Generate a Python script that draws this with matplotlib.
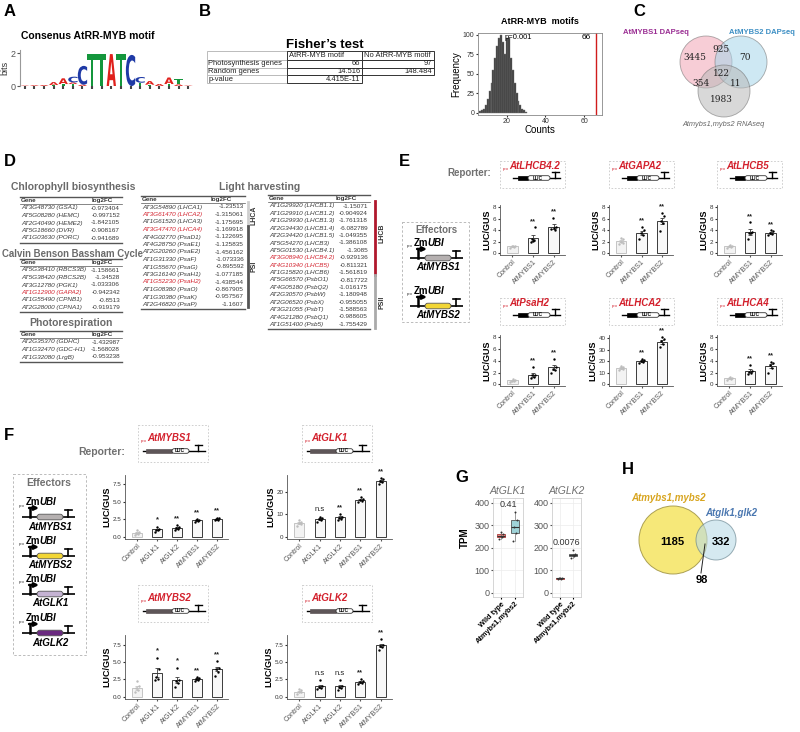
import numpy as np
import matplotlib
matplotlib.use('Agg')
import matplotlib.pyplot as plt
from matplotlib.patches import Circle, Rectangle, FancyBboxPatch, PathPatch
from matplotlib.textpath import TextPath
from matplotlib.font_manager import FontProperties
from matplotlib.transforms import Affine2D

plt.rcParams['font.family'] = ['Liberation Sans', 'DejaVu Sans']

# ---------------- data ----------------
# A: sequence logo, stacked (letter, bits) per position, bottom to top
logo_stacks = [
    [('A', 0.03)], [('A', 0.05)], [('A', 0.06)], [('T', 0.06), ('A', 0.18)],
    [('T', 0.12), ('A', 0.35)], [('T', 0.12), ('A', 0.1), ('C', 0.35)],
    [('A', 0.08), ('C', 1.15)], [('T', 1.95)], [('T', 1.95)], [('A', 1.95)],
    [('T', 1.95)], [('C', 1.9)], [('T', 0.2), ('C', 0.35)], [('T', 0.08), ('A', 0.22)],
    [('A', 0.12)], [('T', 0.12), ('A', 0.4)], [('A', 0.1), ('T', 0.3)], [('A', 0.03)],
]
logo_colors = {'A': '#e0201b', 'C': '#1f3aa6', 'G': '#f5a300', 'T': '#14963c'}

# B: Fisher's test table and permutation histogram
fisher_cols = ['AtRR-MYB motif', 'No AtRR-MYB motif']
fisher_rows = ['Photosynthesis genes', 'Random genes', 'p-value']
fisher_vals = [['66', '97'], ['14.516', '148.484'], ['4.415E-11', '']]
perm_counts = list(range(6, 31))
perm_freq = [2, 3, 5, 10, 17, 28, 38, 55, 70, 85, 95, 100, 90, 75, 95, 95,
             70, 55, 38, 25, 15, 10, 5, 3, 1]
observed_count = 66
perm_p = 'p=0.001'

# C: three-set Venn
venn3_names = ['AtMYBS1 DAPseq', 'AtMYBS2 DAPseq', 'Atmybs1,mybs2 RNAseq']
venn3_counts = {'100': 3445, '110': 925, '010': 70, '111': 122,
                '101': 354, '011': 11, '001': 1983}

# D: gene tables
chl_genes = ['AT3G48730 (GSA1)', 'AT5G08280 (HEMC)', 'AT2G40490 (HEME2)',
             'AT5G18660 (DVR)', 'AT1G03630 (PORC)']
chl_fc = [-0.973404, -0.997152, -1.842105, -0.908167, -0.941689]
cbb_genes = ['AT5G38410 (RBCS3B)', 'AT5G38420 (RBCS2B)', 'AT3G12780 (PGK1)',
             'AT1G12900 (GAPA2)', 'AT1G55490 (CPNB1)', 'AT2G28000 (CPNA1)']
cbb_fc = [-1.158661, -1.34528, -1.033306, -0.942342, -0.8513, -0.919179]
pr_genes = ['AT2G35370 (GDHC)', 'AT1G32470 (GDC-H1)', 'AT1G32080 (LrgB)']
pr_fc = [-1.432987, -1.568028, -0.953238]
psi_genes = ['AT3G54890 (LHCA1)', 'AT3G61470 (LHCA2)', 'AT1G61520 (LHCA3)',
             'AT3G47470 (LHCA4)', 'AT4G02770 (PsaD1)', 'AT4G28750 (PsaE1)',
             'AT2G20260 (PsaE2)', 'AT1G31330 (PsaF)', 'AT1G55670 (PsaG)',
             'AT3G16140 (PsaH1)', 'AT1G52230 (PsaH2)', 'AT1G08380 (PsaO)',
             'AT1G30380 (PsaK)', 'AT2G46820 (PsaP)']
psi_fc = [-1.23513, -1.315061, -1.175695, -1.169918, -1.122695, -1.125835,
          -1.456162, -1.073336, -0.895592, -1.077185, -1.438544, -0.867905,
          -0.957567, -1.1607]
psii_genes = ['AT1G29920 (LHCB1.1)', 'AT1G29910 (LHCB1.2)', 'AT1G29930 (LHCB1.3)',
              'AT2G34430 (LHCB1.4)', 'AT2G34420 (LHCB1.5)', 'AT5G54270 (LHCB3)',
              'AT5G01530 (LHCB4.1)', 'AT3G08940 (LHCB4.2)', 'AT4G10340 (LHCB5)',
              'AT1G15820 (LHCB6)', 'AT5G66570 (PsbO1)', 'AT4G05180 (PsbQ2)',
              'AT2G30570 (PsbW)', 'AT2G06520 (PsbX)', 'AT3G21055 (PsbT)',
              'AT4G21280 (PsbQ1)', 'AT1G51400 (Psb5)']
psii_fc = [-1.15071, -0.904924, -1.761318, -6.082789, -1.049355, -1.386108,
           -1.3085, -0.929136, -0.811321, -1.561819, -0.817722, -1.016175,
           -1.180948, -0.955055, -1.588563, -0.988605, -1.755429]
red_genes = ['AT1G12900 (GAPA2)', 'AT3G61470 (LHCA2)', 'AT3G47470 (LHCA4)',
             'AT1G52230 (PsaH2)', 'AT3G08940 (LHCB4.2)', 'AT4G10340 (LHCB5)']

# E: reporter assays
e_groups = ['Control', 'AtMYBS1', 'AtMYBS2']
e_reporters = ['AtLHCB4.2', 'AtGAPA2', 'AtLHCB5', 'AtPsaH2', 'AtLHCA2', 'AtLHCA4']
e_points = [
    [[1.0, 1.1, 1.2, 1.3, 1.3], [2.0, 2.3, 2.5, 4.5, 2.1], [4.2, 4.0, 6.1, 4.5, 4.4]],
    [[1.6, 1.8, 2.0, 2.4, 2.6], [2.4, 3.2, 3.6, 4.0, 4.6], [3.8, 5.2, 5.6, 6.4, 7.0]],
    [[0.9, 1.1, 1.2, 1.3, 1.4], [2.4, 3.5, 3.6, 3.7, 5.4], [3.1, 3.4, 3.6, 3.8, 4.0]],
    [[0.4, 0.5, 0.6, 0.8, 0.9], [1.0, 1.2, 1.5, 1.6, 2.9], [2.0, 2.4, 2.6, 3.0, 4.3]],
    [[12, 13, 14, 15, 16], [18, 19, 20, 21, 22], [32, 35, 37, 39, 41]],
    [[0.8, 0.9, 1.0, 1.1, 1.3], [1.8, 2.0, 2.1, 2.3, 3.3], [2.0, 2.8, 3.2, 3.6, 3.8]],
]
e_stars = [['', '**', '**']] * 6
e_yticks = [[0, 2, 4, 6, 8]] * 4 + [[0, 10, 20, 30, 40]] + [[0, 2, 4, 6, 8]]
e_ylims = [(-0.3, 8.4)] * 4 + [(-1.5, 42.6)] + [(-0.3, 8.4)]

# F: reporter assays with GLK effectors
f_groups = ['Control', 'AtGLK1', 'AtGLK2', 'AtMYBS1', 'AtMYBS2']
f_reporters = ['AtMYBS1', 'AtGLK1', 'AtMYBS2', 'AtGLK2']
f_points = [
    [[0.2, 0.4, 0.5, 0.7, 0.9], [0.7, 0.9, 1.0, 1.1, 1.4], [0.9, 1.1, 1.2, 1.4, 1.6],
     [2.1, 2.2, 2.3, 2.4, 2.5], [2.3, 2.4, 2.5, 2.6, 2.7]],
    [[5.0, 5.5, 6.0, 6.5, 7.5], [6.5, 7.5, 8.0, 8.5, 9.0], [7.5, 8.0, 8.5, 9.0, 10.0],
     [15.5, 16.0, 16.5, 17.0, 17.5], [23.5, 24.5, 25.0, 25.5, 26.0]],
    [[0.6, 0.9, 1.2, 1.5, 2.2], [2.4, 2.6, 2.8, 4.0, 5.6], [1.4, 1.9, 2.2, 2.4, 4.2],
     [2.3, 2.4, 2.5, 2.7, 2.8], [3.0, 3.6, 4.0, 4.2, 5.1]],
    [[0.4, 0.6, 0.7, 0.9, 1.1], [1.1, 1.3, 1.4, 1.5, 2.4], [1.0, 1.2, 1.4, 1.5, 2.4],
     [1.9, 2.0, 2.1, 2.3, 2.5], [6.8, 7.2, 7.4, 7.6, 8.4]],
]
f_stars = [['', '*', '**', '**', '**'], ['', 'n.s', '**', '**', '**'],
           ['', '*', '*', '**', '**'], ['', 'n.s', 'n.s', '**', '**']]
f_yticks = [[0, 2.5, 5, 7.5], [0, 10, 20], [0, 2.5, 5, 7.5], [0, 2.5, 5, 7.5]]
f_ylims = [(-0.35, 8.8), (-1, 27.5), (-0.35, 8.9), (-0.35, 9.0)]

# G: TPM boxplots
g_genes = ['AtGLK1', 'AtGLK2']
g_groups = ['Wild type', 'Atmybs1,mybs2']
g_wt = [[240, 248, 255, 262, 270], [62, 64, 65, 67, 68]]
g_mut = [[230, 265, 295, 325, 360], [155, 162, 168, 172, 192]]
g_pvals = ['0.41', '0.0076']

# H: two-set Venn
h_names = ['Atmybs1,mybs2', 'Atglk1,glk2']
h_counts = [1185, 332, 98]

# ---------------- figure ----------------
W, H = 800, 732
fig = plt.figure(figsize=(8, 7.32), dpi=100)
cv = fig.add_axes([0, 0, 1, 1])
cv.set_xlim(0, W)
cv.set_ylim(H, 0)
cv.axis('off')

RED = '#d3212d'
GRAY = '#707070'
jit = np.array([-0.11, 0.07, -0.03, 0.11, 0.01])


def px_axes(x0, y0, x1, y1):
    return fig.add_axes([x0 / W, 1 - y1 / H, (x1 - x0) / W, (y1 - y0) / H])


def panel_label(x, y, s):
    cv.text(x, y, s, fontsize=12, fontweight='bold', va='center', ha='left')


# ---- A: logo ----
panel_label(4, 11, 'A')
cv.text(88, 36, 'Consenus AtRR-MYB motif', fontsize=7.5, fontweight='bold', ha='center', va='center')
ax = px_axes(20, 50, 193, 86)
fp = FontProperties(family='DejaVu Sans', weight='bold')
for i, stack in enumerate(logo_stacks):
    base = 0
    for ch, h in stack:
        tp = TextPath((0, 0), ch, size=1, prop=fp)
        bb = tp.get_extents()
        tr = Affine2D().translate(-bb.x0, -bb.y0).scale(0.97 / bb.width, h / bb.height) \
            .translate(i - 0.485, base)
        ax.add_patch(PathPatch(tr.transform_path(tp), color=logo_colors[ch], lw=0))
        base += h
ax.set_xlim(-0.5, len(logo_stacks) - 0.5)
ax.set_ylim(0, 2.2)
ax.set_yticks([0, 2])
ax.set_xticks(range(len(logo_stacks)))
ax.set_xticklabels([])
for s in ['top', 'right', 'bottom']:
    ax.spines[s].set_visible(False)
ax.spines['left'].set_color('#999')
ax.tick_params(axis='y', labelsize=6.5, length=2, pad=1, colors='#555')
ax.tick_params(axis='x', length=2, width=1.5, color='#444')
ax.set_ylabel('bits', fontsize=6.5, labelpad=1, color='#333')

# ---- B: Fisher table ----
panel_label(199, 11, 'B')
cv.text(325, 45, "Fisher\u2019s test", fontsize=9.5, fontweight='bold', ha='center', va='center')
col_x = [207, 287, 362, 434]
row_y = [51, 60, 67.7, 75.3, 83]
for r in range(4):
    for c in range(3):
        if r == 3 and c == 2:
            continue
        ec = '#bbb' if c == 0 else '#333'
        cv.add_patch(Rectangle((col_x[c], row_y[r]), col_x[c + 1] - col_x[c], row_y[r + 1] - row_y[r],
                               fc='none', ec=ec, lw=0.7))
for c, name in enumerate(fisher_cols):
    cv.text(col_x[c + 1] + 2, (row_y[0] + row_y[1]) / 2, name, fontsize=5.4, va='center', ha='left', color='#222')
for r, name in enumerate(fisher_rows):
    yc = (row_y[r + 1] + row_y[r + 2]) / 2
    cv.text(col_x[0] + 1.5, yc, name, fontsize=5.4, va='center', ha='left', color='#222')
    for c in range(2):
        cv.text(col_x[c + 2] - 1.5, yc, fisher_vals[r][c], fontsize=5.4, va='center', ha='right', color='#222')

# ---- B: histogram ----
cv.text(540, 21, 'AtRR-MYB  motifs', fontsize=6.5, fontweight='bold', ha='center', va='center')
ax = px_axes(478, 33, 602, 115)
ax.bar(perm_counts, perm_freq, width=1, color='#3c3c3c', edgecolor='#777', lw=0.3)
ax.axvline(observed_count, color='#d01c1c', lw=1.0)
ax.set_xlim(5, 69.3)
ax.set_ylim(-3, 102)
ax.set_xticks([20, 40, 60])
ax.set_yticks([0, 25, 50, 75, 100])
ax.tick_params(labelsize=5, length=1.5, pad=1, colors='#333')
for s in ax.spines.values():
    s.set_color('#888')
    s.set_linewidth(0.6)
ax.set_xlabel('Counts', fontsize=7, labelpad=0)
ax.set_ylabel('Frequency', fontsize=7, labelpad=1)
ax.text(19, 96, perm_p, fontsize=5.5, va='center')
ax.text(63.5, 96, str(observed_count), fontsize=6, va='center', ha='right')

# ---- C: three-set Venn ----
panel_label(633, 11, 'C')
for (cx, cy, col) in [(706, 62, '#f2a4b5'), (741, 62, '#a6d6ea'), (724, 91, '#b8b8b8')]:
    cv.add_patch(Circle((cx, cy), 26, fc=col, ec='#666', lw=0.6, alpha=0.55))
cv.text(656, 32, venn3_names[0], fontsize=5.5, fontweight='bold', color='#9a2e93', ha='center', va='center')
cv.text(762, 32, venn3_names[1], fontsize=5.5, fontweight='bold', color='#3d8fc4', ha='center', va='center')
cv.text(723, 125, venn3_names[2], fontsize=5.3, color='#666', ha='center', va='center', style='italic')
venn_pos = {'100': (695, 58), '110': (721, 50), '010': (745, 58), '111': (721, 73),
            '101': (701, 83), '011': (736, 83), '001': (721, 100)}
for k, (x, y) in venn_pos.items():
    cv.text(x, y, str(venn3_counts[k]), fontsize=6.5, family='DejaVu Serif', ha='center', va='center', color='#222')

# ---- D: gene tables ----
panel_label(4, 162, 'D')


def gene_table(x0, x1, ytop, genes, fcs, hx, vx, step=7.5):
    cv.plot([x0, x1], [ytop, ytop], color='#555', lw=1.0)
    cv.text(x0 + 1, ytop + 3.5, 'Gene', fontsize=4.5, fontweight='bold', color='#333', va='center')
    cv.text(hx, ytop + 3.5, 'log2FC', fontsize=4.5, fontweight='bold', color='#333', va='center')
    cv.plot([x0, x1], [ytop + 7, ytop + 7], color='#555', lw=0.5)
    for i, (g, v) in enumerate(zip(genes, fcs)):
        y = ytop + 11 + step * i
        col = RED if g in red_genes else '#3a3a3a'
        cv.text(x0 + 1, y, g, fontsize=4.6, style='italic', color=col, va='center')
        cv.text(vx, y, str(v), fontsize=4.6, color='#3a3a3a', ha='right', va='center')
    yb = ytop + 11 + step * (len(genes) - 1) + 4.5
    cv.plot([x0, x1], [yb, yb], color='#555', lw=1.0)


cv.text(73, 187, 'Chlorophyll biosynthesis', fontsize=7.5, fontweight='bold', color='#6a6a6a', ha='center', va='center')
gene_table(20, 122, 197, chl_genes, chl_fc, 92, 120)
cv.text(73, 254, 'Calvin Benson Bassham Cycle', fontsize=6.9, fontweight='bold', color='#6a6a6a', ha='center', va='center')
gene_table(20, 122, 259, cbb_genes, cbb_fc, 92, 120)
cv.text(71, 323, 'Photorespiration', fontsize=7.5, fontweight='bold', color='#6a6a6a', ha='center', va='center')
gene_table(20, 122, 331, pr_genes, pr_fc, 92, 120)
cv.text(260, 187, 'Light harvesting', fontsize=7.5, fontweight='bold', color='#6a6a6a', ha='center', va='center')
gene_table(141, 245, 196, psi_genes, psi_fc, 211, 244)
gene_table(268, 370, 195, psii_genes, psii_fc, 336, 368, step=7.4)
cv.plot([248, 248], [202, 226], color='#cfcfcf', lw=2)
cv.plot([248, 248], [226, 307], color='#555', lw=2)
cv.text(254, 215, 'LHCA', fontsize=5, fontweight='bold', rotation=90, ha='center', va='center', color='#333')
cv.text(254, 266, 'PSI', fontsize=5, fontweight='bold', rotation=90, ha='center', va='center', color='#333')
cv.plot([375, 375], [201, 275], color='#b0182d', lw=2)
cv.plot([375, 375], [275, 328], color='#aaa', lw=2)
cv.text(382, 233, 'LHCB', fontsize=5, fontweight='bold', rotation=90, ha='center', va='center', color='#333')
cv.text(382, 302, 'PSII', fontsize=5, fontweight='bold', rotation=90, ha='center', va='center', color='#333')


# ---- construct diagrams ----
def effector(x0, y, color, gene):
    cv.plot([x0, x0 + 53], [y, y], color='black', lw=1.2, solid_capstyle='butt')
    ax_ = x0 + 8
    cv.plot([ax_, ax_], [y, y - 9], color='black', lw=1.8)
    cv.annotate('', xy=(ax_ + 9, y - 9), xytext=(ax_ - 0.9, y - 9),
                arrowprops=dict(arrowstyle='-|>', lw=1.8, color='black', mutation_scale=6,
                                shrinkA=0, shrinkB=0))
    cv.add_patch(FancyBboxPatch((x0 + 15, y - 2.8), 26, 5.6,
                                boxstyle='round,pad=0,rounding_size=2.8',
                                fc=color, ec='#555', lw=0.6, zorder=3))
    tx = x0 + 46
    cv.plot([tx, tx], [y, y - 7], color='black', lw=1.2)
    cv.plot([tx - 3.5, tx + 3.5], [y - 7, y - 7], color='black', lw=1.2)
    cv.text(x0 - 3, y - 11.5, 'pro', fontsize=3, va='center', color='#333')
    cv.text(x0 + 4, y - 15, 'Zm', fontsize=7, fontweight='bold', va='center')
    cv.text(x0 + 17, y - 15, 'UBI', fontsize=7, fontweight='bold', style='italic', va='center')
    cv.text(x0 + 28, y + 9.5, gene, fontsize=7, fontweight='bold', style='italic', ha='center', va='center')


def reporter(x0, y0, w, h, gene, geo):
    lx, ly, line_y, lx0, lx1, px0, px1, pcol, lux1, tx = geo
    cv.add_patch(Rectangle((x0, y0), w, h, fc='none', ec='#c8c8c8', lw=0.6, ls=(0, (2, 2))))
    cv.text(x0 + lx, ly + y0 + 3, 'pro', fontsize=3, color=RED, va='center')
    cv.text(x0 + lx + 6.5, ly + y0, gene, fontsize=7, color=RED, fontweight='bold', style='italic', va='center')
    yl = y0 + line_y
    cv.plot([x0 + lx0, x0 + lx1], [yl, yl], color='black', lw=1.0)
    cv.add_patch(Rectangle((x0 + px0, yl - 2.3), px1 - px0, 4.6, fc=pcol, ec=pcol, lw=0.5, zorder=3))
    cv.add_patch(FancyBboxPatch((x0 + px1, yl - 2.3), lux1 - px1, 4.6,
                                boxstyle='round,pad=0,rounding_size=2.3', fc='white', ec='#333',
                                lw=0.6, zorder=3))
    cv.text(x0 + (px1 + lux1) / 2 - 1, yl, 'LUC', fontsize=3.5, fontweight='bold', ha='center',
            va='center', zorder=4)
    cv.plot([x0 + tx, x0 + tx], [yl, yl - 6], color='black', lw=1.0)
    cv.plot([x0 + tx - 3.5, x0 + tx + 3.5], [yl - 6, yl - 6], color='black', lw=1.0)


def bar_panel(ax, groups, pts, stars, ylim, yticks):
    for i, p in enumerate(pts):
        p = np.array(p, dtype=float)
        m = p.mean()
        se = p.std(ddof=1) / np.sqrt(len(p))
        ctrl = i == 0
        ec = '#c4c4c4' if ctrl else '#3a3a3a'
        fc = '#f3f3f3' if ctrl else '#f8f8f8'
        ax.bar(i, m, width=0.5, color=fc, edgecolor=ec, lw=0.7, zorder=1)
        ax.errorbar(i, m, yerr=se, color=ec, lw=0.6, capsize=1.2, capthick=0.6, zorder=2)
        ax.scatter(i + jit[:len(p)], p, s=3, color='#bdbdbd' if ctrl else 'black', lw=0, zorder=3)
        if stars[i]:
            ax.text(i, p.max() + 0.05 * (ylim[1] - ylim[0]), stars[i], ha='center', va='bottom',
                    fontsize=5.5, fontweight='bold' if stars[i].startswith('*') else 'normal',
                    color='#222')
    ax.set_xlim(-0.6, len(groups) - 0.45)
    ax.set_ylim(*ylim)
    ax.set_yticks(yticks)
    ax.set_xticks(range(len(groups)))
    ax.set_xticklabels(groups, rotation=45, ha='right', rotation_mode='anchor', fontsize=5.1, color='#333')
    for s in ['top', 'right']:
        ax.spines[s].set_visible(False)
    for s in ['left', 'bottom']:
        ax.spines[s].set_color('#555')
        ax.spines[s].set_linewidth(0.6)
    ax.tick_params(axis='y', labelsize=4.5, length=1.5, pad=1, colors='#333')
    ax.tick_params(axis='x', length=1.5, pad=1, colors='#555')
    ax.set_ylabel('LUC/GUS', fontsize=6.5, fontweight='bold', labelpad=1)


# ---- E ----
panel_label(399, 162, 'E')
cv.text(447, 173, 'Reporter:', fontsize=7, fontweight='bold', color=GRAY, va='center')
cv.add_patch(Rectangle((402, 222), 67, 100, fc='none', ec='#bbb', lw=0.7, ls=(0, (2.5, 2))))
cv.text(436, 230, 'Effectors', fontsize=7, fontweight='bold', color=GRAY, ha='center', va='center')
effector(410, 258, '#b5b0b0', 'AtMYBS1')
effector(410, 306, '#f2d635', 'AtMYBS2')

e_geo = (3, 5, 17, 13, 60, 18, 28, 'black', 50, 55)
e_x = [(500, 565), (609, 673), (717, 782)]
for k in range(6):
    x0, x1 = e_x[k % 3]
    top = k < 3
    ry0 = 161 if top else 298
    reporter(x0, ry0, 65, 27, e_reporters[k], e_geo)
    ay0, ay1 = (205, 255) if top else (335, 386)
    ax = px_axes(x0, ay0, x1, ay1)
    bar_panel(ax, e_groups, e_points[k], e_stars[k], e_ylims[k], e_yticks[k])

# ---- F ----
panel_label(4, 435, 'F')
cv.text(78, 452, 'Reporter:', fontsize=7.5, fontweight='bold', color=GRAY, va='center')
cv.add_patch(Rectangle((13, 474), 73, 181, fc='none', ec='#bbb', lw=0.7, ls=(0, (2.5, 2))))
cv.text(49, 483, 'Effectors', fontsize=7.5, fontweight='bold', color=GRAY, ha='center', va='center')
effector(22, 517, '#b5b0b0', 'AtMYBS1')
effector(22, 556, '#f2d635', 'AtMYBS2')
effector(22, 594, '#c5b3d3', 'AtGLK1')
effector(22, 633, '#6a2a80', 'AtGLK2')

f_geo = (3, 13, 26, 5, 67, 8, 34, '#5e5658', 51, 60)
f_x = [(125, 228), (287, 392)]
for k in range(4):
    x0, x1 = f_x[k % 2]
    top = k < 2
    bx0 = 138 if k % 2 == 0 else 302
    reporter(bx0, 425 if top else 585, 70, 37, f_reporters[k], f_geo)
    ay0, ay1 = (475, 539) if top else (635, 699)
    ax = px_axes(x0, ay0, x1, ay1)
    bar_panel(ax, f_groups, f_points[k], f_stars[k], f_ylims[k], f_yticks[k])

# ---- G ----
panel_label(455, 478, 'G')
cv.text(465, 538, 'TPM', fontsize=7, fontweight='bold', rotation=90, ha='center', va='center')
g_x = [(493, 523), (552, 581)]
g_ptext_y = [372, 205]
for k in range(2):
    ax = px_axes(g_x[k][0], 498, g_x[k][1], 597)
    bp = ax.boxplot([g_wt[k], g_mut[k]], positions=[1, 2], widths=0.62, patch_artist=True,
                    showfliers=False, medianprops=dict(color='#333', lw=0.8),
                    whiskerprops=dict(color='#777', lw=0.5), capprops=dict(lw=0))
    for patch, fc, ec in zip(bp['boxes'], ['#e9908a', '#9fd3d8'], ['#b03a3a', '#555']):
        patch.set_facecolor(fc)
        patch.set_edgecolor(ec)
        patch.set_linewidth(0.6)
    for i, vals in enumerate([g_wt[k], g_mut[k]]):
        ax.scatter(1 + i + jit[:len(vals)] * 1.3, vals, s=2, color='#333', lw=0, zorder=3)
    ax.text(1.5, g_ptext_y[k], g_pvals[k], fontsize=6.5, ha='center', va='bottom', color='#333')
    ax.set_xlim(0.4, 2.6)
    ax.set_ylim(-18, 422)
    ax.set_yticks([0, 100, 200, 300, 400])
    ax.set_xticks([1, 2])
    ax.set_xticklabels(g_groups, rotation=45, ha='right', rotation_mode='anchor',
                       fontsize=5.3, fontweight='bold')
    ax.grid(True, color='#ececec', lw=0.5)
    ax.set_axisbelow(True)
    for s in ax.spines.values():
        s.set_color('#cfcfcf')
        s.set_linewidth(0.6)
    ax.tick_params(axis='y', labelsize=6.5, length=1.5, pad=1, colors='#555')
    ax.tick_params(axis='x', length=1.5, pad=1)
    ax.set_title(g_genes[k], fontsize=7.5, style='italic', color=GRAY, pad=3)

# ---- H ----
panel_label(622, 470, 'H')
cv.add_patch(Circle((673, 540), 34, fc='#f6e66a', ec='#a39748', lw=0.7, alpha=0.9))
cv.add_patch(Circle((716, 540), 20, fc='#b9dbe6', ec='#5c7a86', lw=0.7, alpha=0.6))
cv.text(668, 498, h_names[0], fontsize=7, fontweight='bold', style='italic', color='#d8a520', ha='center', va='center')
cv.text(731, 513, h_names[1], fontsize=7, fontweight='bold', style='italic', color='#4a77b0', ha='center', va='center')
cv.text(672, 542, str(h_counts[0]), fontsize=8, fontweight='bold', ha='center', va='center')
cv.text(721, 542, str(h_counts[1]), fontsize=8, fontweight='bold', ha='center', va='center')
cv.plot([701, 705], [573, 544], color='#222', lw=0.7)
cv.text(702, 580, str(h_counts[2]), fontsize=8, fontweight='bold', ha='center', va='center')

fig.savefig('out.png', dpi=100)
